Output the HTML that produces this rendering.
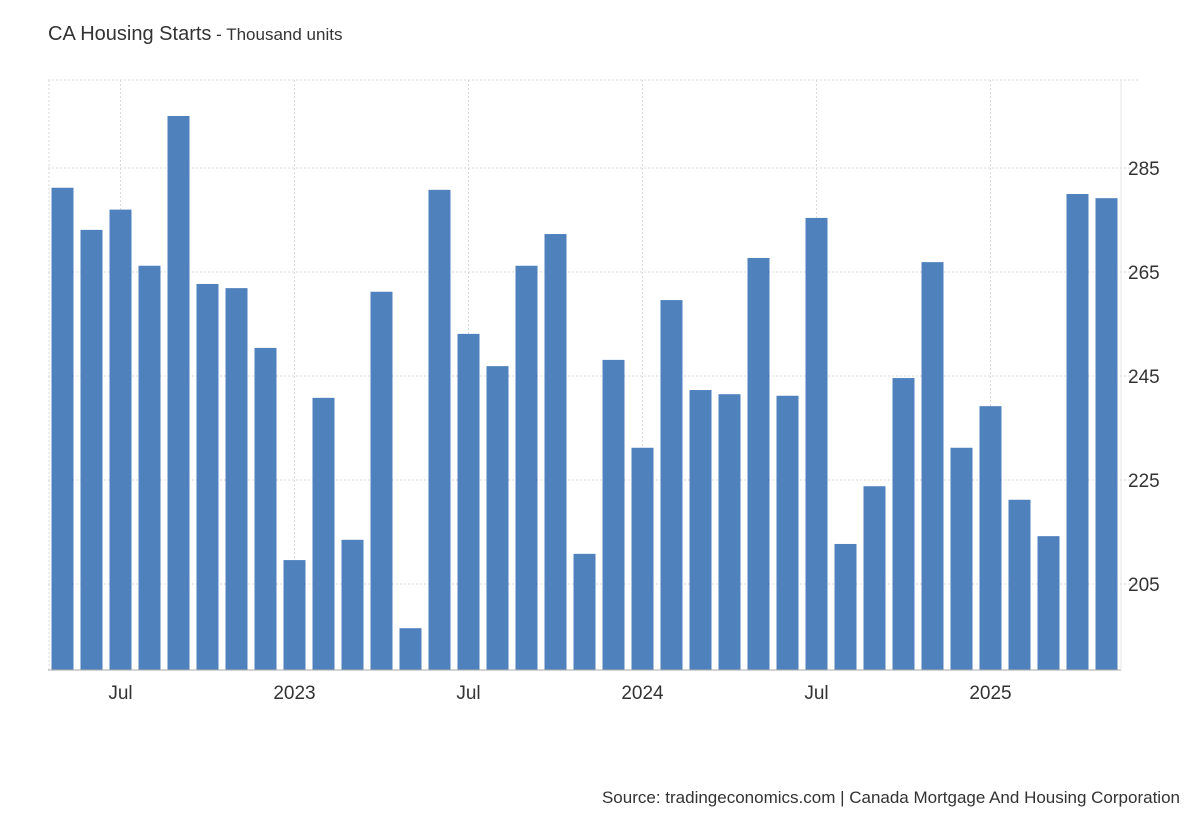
<!DOCTYPE html>
<html><head><meta charset="utf-8"><style>
body{margin:0;background:#fff;font-family:"Liberation Sans",Arial,sans-serif;}
svg{display:block}
</style></head><body>
<svg width="1200" height="820">
<text x="48" y="40" font-size="20" fill="#333">CA Housing Starts<tspan font-size="17" fill="#333"> - Thousand units</tspan></text>
<g id="grid"></g>
<g id="bars"></g>
<g id="axes"></g>
<text x="1180" y="803" font-size="17" fill="#333" text-anchor="end">Source: tradingeconomics.com | Canada Mortgage And Housing Corporation</text>
</svg>
<script>
const categories=["2022-05","2022-06","2022-07","2022-08","2022-09","2022-10","2022-11","2022-12","2023-01","2023-02","2023-03","2023-04","2023-05","2023-06","2023-07","2023-08","2023-09","2023-10","2023-11","2023-12","2024-01","2024-02","2024-03","2024-04","2024-05","2024-06","2024-07","2024-08","2024-09","2024-10","2024-11","2024-12","2025-01","2025-02","2025-03","2025-04","2025-05"];
const values=[281.2,273.1,277,266.2,295,262.7,261.9,250.4,209.6,240.8,213.5,261.2,196.5,280.8,253.1,246.9,266.2,272.3,210.8,248.1,231.2,259.6,242.3,241.5,267.7,241.2,275.4,212.7,223.8,244.6,266.9,231.2,239.2,221.2,214.2,280,279.2];
const yTicks=[205,225,245,265,285];
const xTickLabels=["Jul","2023","Jul","2024","Jul","2025"];
const xTickIndex=[2,8,14,20,26,32];
const NS="http://www.w3.org/2000/svg";
const L=48,R=1121,band=(R-L)/categories.length;
const xC=i=>L+band*(i+0.5);
const y=v=>584-(v-205)*5.2;
const baseY=670;
function mk(t,a,p){const e=document.createElementNS(NS,t);for(const k in a)e.setAttribute(k,a[k]);p.appendChild(e);return e;}
const grid=document.getElementById('grid'),bars=document.getElementById('bars'),axes=document.getElementById('axes');
[80].concat(yTicks.map(y)).forEach(yy=>{
const g=mk('line',{x1:L,x2:1138,y1:yy,y2:yy,stroke:'#d9d9d9','stroke-dasharray':'2,2'},grid);


});
const vl=mk('line',{x1:49,x2:49,y1:80,y2:baseY,stroke:'#d9d9d9','stroke-dasharray':'2,2'},grid);


xTickIndex.forEach(i=>{
const g=mk('line',{x1:xC(i),x2:xC(i),y1:80,y2:baseY,stroke:'#d9d9d9','stroke-dasharray':'2,2'},grid);


});
values.forEach((v,i)=>{
const b=mk('rect',{x:xC(i)-11,y:y(v),width:22,height:baseY-y(v),fill:'#4f81bd'},bars);


});
const ax=mk('line',{x1:L,x2:1121,y1:baseY,y2:baseY,stroke:'#aaa'},axes);


const ry=mk('line',{x1:1121,x2:1121,y1:80,y2:baseY,stroke:'#e6e6e6'},axes);


yTicks.forEach(t=>{
const tx=mk('text',{x:1128,y:y(t)+7,'font-size':19,fill:'#333'},axes);
tx.textContent=t;


});
xTickIndex.forEach((i,k)=>{
const tx=mk('text',{x:xC(i),y:699,'font-size':19,fill:'#333','text-anchor':'middle'},axes);
tx.textContent=xTickLabels[k];


});
</script>
</body></html>
